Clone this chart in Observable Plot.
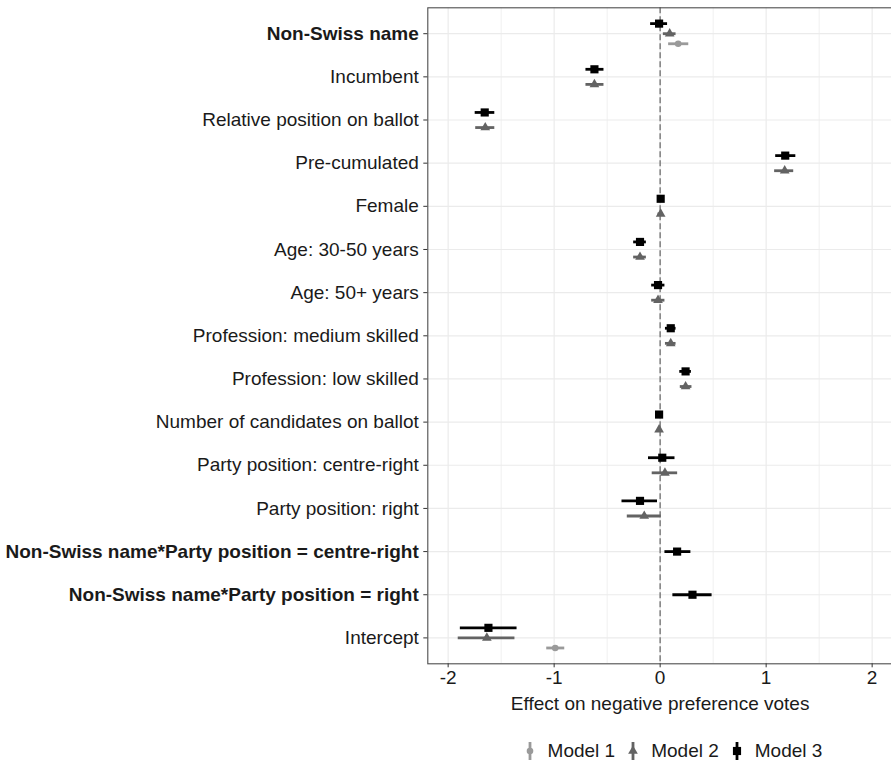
<!DOCTYPE html>
<html>
<head>
<meta charset="utf-8">
<script src="https://cdn.jsdelivr.net/npm/d3@7"></script>
<script src="https://cdn.jsdelivr.net/npm/@observablehq/plot@0.6"></script>
<style>
  body { margin: 0; background: #fff; font-family: "Liberation Sans", Arial, sans-serif; }
  #legend { width: 891px; box-sizing: border-box; padding-top: 19px; padding-left: 455px;
            display: flex; justify-content: center; align-items: center; font-size: 19px; color: #1a1a1a; }
  .item { display: flex; align-items: center; margin: 0 6px; line-height: 24px; }
  .item svg { margin-right: 12px; }
</style>
</head>
<body>
<div id="chart"></div>
<div id="legend"></div>
<script>
const terms = [
  "Non-Swiss name", "Incumbent", "Relative position on ballot", "Pre-cumulated", "Female",
  "Age: 30-50 years", "Age: 50+ years", "Profession: medium skilled", "Profession: low skilled",
  "Number of candidates on ballot", "Party position: centre-right", "Party position: right",
  "Non-Swiss name*Party position = centre-right", "Non-Swiss name*Party position = right", "Intercept"
];
const boldTerms = ["Non-Swiss name", "Non-Swiss name*Party position = centre-right", "Non-Swiss name*Party position = right"];
const models = ["Model 1", "Model 2", "Model 3"];
const modelColors = ["#9a9a9a", "#636363", "#000000"];
const modelSymbols = ["circle", "triangle", "square"];
const modelRadius = [3.3, 3.6, 4.6];

const model1Terms = ["Non-Swiss name", "Intercept"];
const model1Est = [0.17, -0.99];
const model1Lo  = [0.08, -1.07];
const model1Hi  = [0.27, -0.90];

const model2Terms = terms.slice(0, 12).concat(["Intercept"]);
const model2Est = [0.09, -0.62, -1.65, 1.175, 0.005, -0.19, -0.02, 0.10, 0.24, -0.01, 0.045, -0.15, -1.635];
const model2Lo  = [0.03, -0.70, -1.74, 1.08, -0.02, -0.25, -0.08, 0.05, 0.19, -0.02, -0.075, -0.31, -1.905];
const model2Hi  = [0.15, -0.53, -1.56, 1.26, 0.03, -0.13, 0.045, 0.15, 0.30, 0.00, 0.165, 0.01, -1.37];

const model3Terms = terms.slice();
const model3Est = [-0.01, -0.62, -1.655, 1.18, 0.005, -0.19, -0.02, 0.10, 0.24, -0.01, 0.02, -0.19, 0.16, 0.305, -1.62];
const model3Lo  = [-0.09, -0.70, -1.745, 1.09, -0.02, -0.25, -0.08, 0.05, 0.185, -0.02, -0.11, -0.36, 0.045, 0.12, -1.885];
const model3Hi  = [0.07, -0.53, -1.56, 1.28, 0.03, -0.13, 0.045, 0.15, 0.295, 0.00, 0.14, -0.025, 0.29, 0.49, -1.35];

const xTicks = [-2, -1, 0, 1, 2];
const xMinor = [-1.5, -0.5, 0.5, 1.5];
const xDomain = [-2.192, 2.192];
const dodgeWidth = 0.7;

// Build table
const sets = [
  [models[0], model1Terms, model1Est, model1Lo, model1Hi],
  [models[1], model2Terms, model2Est, model2Lo, model2Hi],
  [models[2], model3Terms, model3Est, model3Lo, model3Hi]
];
let rows = [];
for (const [model, ts, est, lo, hi] of sets) {
  ts.forEach((t, i) => rows.push({term: t, model, est: est[i], lo: lo[i], hi: hi[i]}));
}
// dodge: Model 3 on top, then Model 2, then Model 1
const order = ["Model 3", "Model 2", "Model 1"];
for (const r of rows) {
  const present = order.filter(m => rows.some(q => q.term === r.term && q.model === m));
  const n = present.length, k = present.indexOf(r.model);
  r.yv = terms.indexOf(r.term) + 1 + (k - (n - 1) / 2) * dodgeWidth / n;
  r.rad = modelRadius[models.indexOf(r.model)];
}

const idx = terms.map((t, i) => i + 1);
const boldIdx = idx.filter(i => boldTerms.includes(terms[i - 1]));
const regIdx = idx.filter(i => !boldTerms.includes(terms[i - 1]));
const fmt = i => terms[i - 1];

const chart = Plot.plot({
  width: 891,
  height: 720,
  marginLeft: 427.3,
  marginRight: -1,
  marginTop: 7.3,
  marginBottom: 56.7,
  style: {fontFamily: "'Liberation Sans', Arial, sans-serif", fontSize: "19px", color: "#1a1a1a", background: "#fff"},
  x: {domain: xDomain},
  y: {domain: [0.4, terms.length + 0.6], reverse: true},
  color: {domain: models, range: modelColors},
  symbol: {domain: models, range: modelSymbols},
  r: {type: "identity"},
  marks: [
    Plot.gridX(xMinor, {stroke: "#ebebeb", strokeOpacity: 1, strokeWidth: 0.8}),
    Plot.gridX(xTicks, {stroke: "#ebebeb", strokeOpacity: 1, strokeWidth: 1.2}),
    Plot.gridY(idx, {stroke: "#ebebeb", strokeOpacity: 1, strokeWidth: 1.2}),
    Plot.ruleX([0], {stroke: "#7f7f7f", strokeWidth: 1.5, strokeDasharray: "6,3"}),
    Plot.ruleY(rows, {y: "yv", x1: "lo", x2: "hi", stroke: "model", strokeWidth: 2.8}),
    Plot.dot(rows, {x: "est", y: "yv", fill: "model", symbol: "model", r: "rad", stroke: "none"}),
    Plot.frame({stroke: "#4d4d4d", strokeWidth: 1.1}),
    Plot.axisY({ticks: regIdx, tickFormat: fmt, tickSize: 4, tickPadding: 5, label: null, fontSize: 19, stroke: "#333"}),
    Plot.axisY({ticks: boldIdx, tickFormat: fmt, tickSize: 4, tickPadding: 5, label: null, fontSize: 19, fontWeight: "bold", stroke: "#333"}),
    Plot.axisX({ticks: xTicks, tickFormat: d => String(d).replace("−", "-"), tickSize: 4, tickPadding: 3, fontSize: 19,
                label: "Effect on negative preference votes", labelAnchor: "center", labelArrow: "none", labelOffset: 46, stroke: "#333"})
  ]
});
document.getElementById("chart").appendChild(chart);

// Legend
const legend = d3.select("#legend");
models.forEach((m, i) => {
  const item = legend.append("div").attr("class", "item");
  const svg = item.append("svg").attr("width", 12).attr("height", 24);
  svg.append("line").attr("x1", 6).attr("x2", 6).attr("y1", 3).attr("y2", 21)
     .attr("stroke", modelColors[i]).attr("stroke-width", 2.8);
  const sym = [d3.symbolCircle, d3.symbolTriangle, d3.symbolSquare][i];
  svg.append("path").attr("transform", "translate(6,12)")
     .attr("d", d3.symbol(sym, Math.PI * modelRadius[i] * modelRadius[i])())
     .attr("fill", modelColors[i]);
  item.append("span").text(m);
});
</script>
</body>
</html>
